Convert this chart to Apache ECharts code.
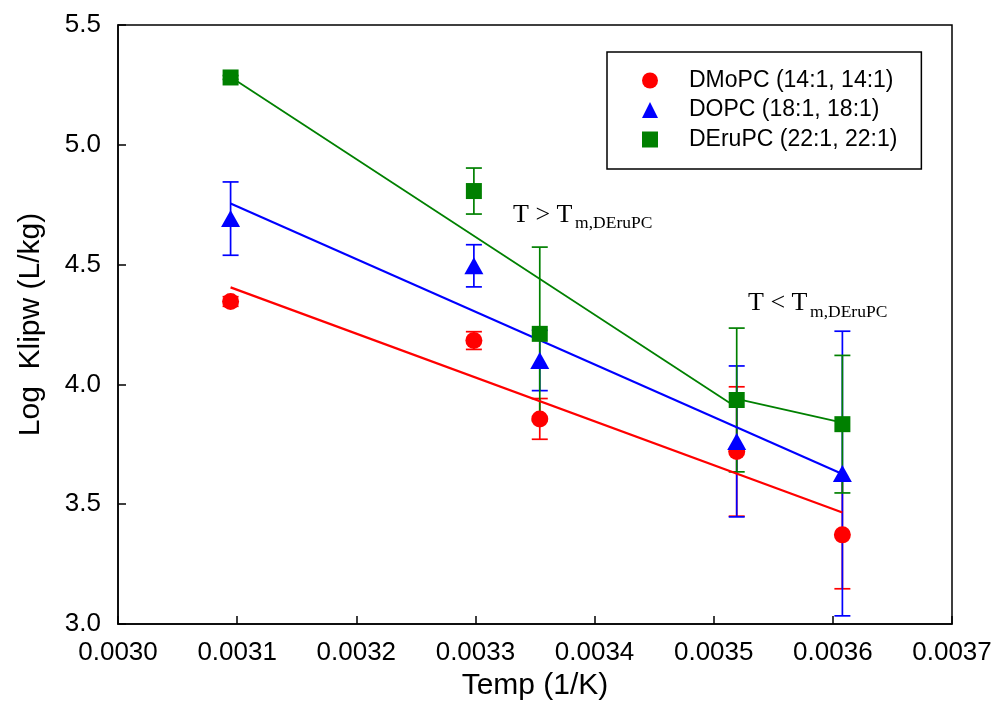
<!DOCTYPE html>
<html>
<head>
<meta charset="utf-8">
<script src="https://cdn.jsdelivr.net/npm/echarts@6/dist/echarts.min.js"></script>
<style>
  html, body { margin: 0; padding: 0; background: #fff; }
  #chart { width: 997px; height: 725px; }
</style>
</head>
<body>
<div id="chart"></div>
<script>
// inverse temperature (1/K): 50, 30, 25, 11, 4 °C
const tempX = [0.0030945, 0.0032987, 0.0033540, 0.0035193, 0.0036080];

const dmopcY = [4.346, 4.183, 3.856, 3.720, 3.372];
const dmopcErr = [0.02, 0.037, 0.085, 0.27, 0.225];
const dopcY = [4.692, 4.495, 4.100, 3.762, 3.628];
const dopcErr = [0.153, 0.088, 0.126, 0.315, 0.594];
const deruY = [5.281, 4.807, 4.211, 3.935, 3.834];
const deruErr = [0.008, 0.096, 0.362, 0.30, 0.287];

// fitted lines, value at first and last x of each line
const dmopcFit = [4.405, 3.465];
const dopcFit = [4.755, 3.626];
const deruFitAbove = [5.283, 3.904];   // T > Tm, 50..11 °C
const deruFitBelow = [3.94, 3.84];     // T < Tm, 11..4 °C

const seriesNames = ['DMoPC (14:1, 14:1)', 'DOPC (18:1, 18:1)', 'DEruPC (22:1, 22:1)'];
const xTicks = ['0.0030', '0.0031', '0.0032', '0.0033', '0.0034', '0.0035', '0.0036', '0.0037'];
const yTicks = ['3.0', '3.5', '4.0', '4.5', '5.0', '5.5'];

const RED = '#ff0000';
const BLUE = '#0000ff';
const GREEN = '#008000';
const SANS = 'Liberation Sans, Arial, sans-serif';
const SERIF = 'Liberation Serif, Times New Roman, serif';

const chart = echarts.init(document.getElementById('chart'));

const pts = (ys) => tempX.map((x, i) => [x, ys[i]]);
const errs = (ys, es) => tempX.map((x, i) => [x, ys[i], es[i]]);

const errorBars = (name, color, data) => ({
  name: name + ' err',
  type: 'custom',
  data: data,
  z: 2,
  silent: true,
  renderItem: (params, api) => {
    const x = api.value(0), y = api.value(1), e = api.value(2);
    const top = api.coord([x, y + e]);
    const bot = api.coord([x, y - e]);
    const w = 8;
    const style = { stroke: color, lineWidth: 1.7 };
    return {
      type: 'group',
      children: [
        { type: 'line', shape: { x1: top[0], y1: top[1], x2: bot[0], y2: bot[1] }, style },
        { type: 'line', shape: { x1: top[0] - w, y1: top[1], x2: top[0] + w, y2: top[1] }, style },
        { type: 'line', shape: { x1: bot[0] - w, y1: bot[1], x2: bot[0] + w, y2: bot[1] }, style },
      ],
    };
  },
});

const fitLine = (color, xs, ys, width) => ({
  type: 'line',
  data: xs.map((x, i) => [x, ys[i]]),
  symbol: 'none',
  z: 3,
  silent: true,
  lineStyle: { color: color, width: width },
});

const option = {
  animation: false,
  grid: {
    left: 118, right: 45, top: 25, bottom: 101,
    show: true, borderColor: '#000', borderWidth: 1.5, backgroundColor: 'transparent',
  },
  xAxis: {
    type: 'value',
    min: 0.0030, max: 0.0037, interval: 0.0001,
    name: 'Temp (1/K)',
    nameLocation: 'middle',
    nameGap: 46,
    nameTextStyle: { fontFamily: SANS, fontSize: 30, color: '#000' },
    axisLine: { lineStyle: { color: '#000', width: 1.5 } },
    axisTick: { inside: true, length: 8, lineStyle: { color: '#000', width: 1.5 } },
    axisLabel: {
      margin: 16, fontFamily: SANS, fontSize: 26, color: '#000',
      formatter: (v) => xTicks[Math.round((v - 0.003) / 0.0001)],
    },
    splitLine: { show: false },
  },
  yAxis: {
    type: 'value',
    min: 3.0, max: 5.5, interval: 0.5,
    name: 'Log  Klipw (L/kg)',
    nameLocation: 'middle',
    nameGap: 72,
    nameTextStyle: { fontFamily: SANS, fontSize: 30, color: '#000' },
    axisLine: { lineStyle: { color: '#000', width: 1.5 } },
    axisTick: { inside: true, length: 8, lineStyle: { color: '#000', width: 1.5 } },
    axisLabel: {
      margin: 17, fontFamily: SANS, fontSize: 26, color: '#000',
      formatter: (v) => yTicks[Math.round((v - 3) / 0.5)],
    },
    splitLine: { show: false },
  },
  legend: {
    data: seriesNames.map((n, i) => ({ name: n, icon: ['circle', 'triangle', 'rect'][i] })),
    orient: 'vertical',
    left: 607, top: 52,
    itemWidth: 16, itemHeight: 16,
    itemGap: 6.5,
    padding: [17, 24, 18, 35],
    borderColor: '#000', borderWidth: 1.5,
    backgroundColor: '#fff',
    selectedMode: false,
    textStyle: { fontFamily: SANS, fontSize: 23, color: '#000', lineHeight: 23, padding: [0, 0, 0, 26] },
  },
  series: [
    errorBars(seriesNames[0], RED, errs(dmopcY, dmopcErr)),
    errorBars(seriesNames[1], BLUE, errs(dopcY, dopcErr)),
    errorBars(seriesNames[2], GREEN, errs(deruY, deruErr)),
    fitLine(RED, [tempX[0], tempX[4]], dmopcFit, 2.2),
    fitLine(BLUE, [tempX[0], tempX[4]], dopcFit, 2),
    fitLine(GREEN, [tempX[0], tempX[3]], deruFitAbove, 1.8),
    fitLine(GREEN, [tempX[3], tempX[4]], deruFitBelow, 1.8),
    {
      name: seriesNames[0], type: 'scatter', data: pts(dmopcY), z: 4,
      symbol: 'circle', symbolSize: 17, itemStyle: { color: RED, opacity: 1 },
    },
    {
      name: seriesNames[1], type: 'scatter', data: pts(dopcY), z: 4,
      symbol: 'triangle', symbolSize: [19, 17], itemStyle: { color: BLUE, opacity: 1 },
    },
    {
      name: seriesNames[2], type: 'scatter', data: pts(deruY), z: 4,
      symbol: 'rect', symbolSize: 16, itemStyle: { color: GREEN, opacity: 1 },
    },
  ],
};

chart.setOption(option);

// phase labels, anchored in data coordinates
const notes = [
  { x: 0.0033316, y: 4.70, main: 'T > T', sub: 'm,DEruPC' },
  { x: 0.0035288, y: 4.33, main: 'T < T', sub: 'm,DEruPC' },
];
const graphics = [];
notes.forEach((n) => {
  const p = chart.convertToPixel({ gridIndex: 0 }, [n.x, n.y]);
  graphics.push({
    type: 'text', left: p[0], top: p[1] - 15, z: 10,
    style: { text: n.main, font: '26px ' + SERIF, fill: '#000' },
  });
  graphics.push({
    type: 'text', left: p[0] + 62, top: p[1] - 2, z: 10,
    style: { text: n.sub, font: '17.5px ' + SERIF, fill: '#000' },
  });
});
chart.setOption({ graphic: graphics });
</script>
</body>
</html>
